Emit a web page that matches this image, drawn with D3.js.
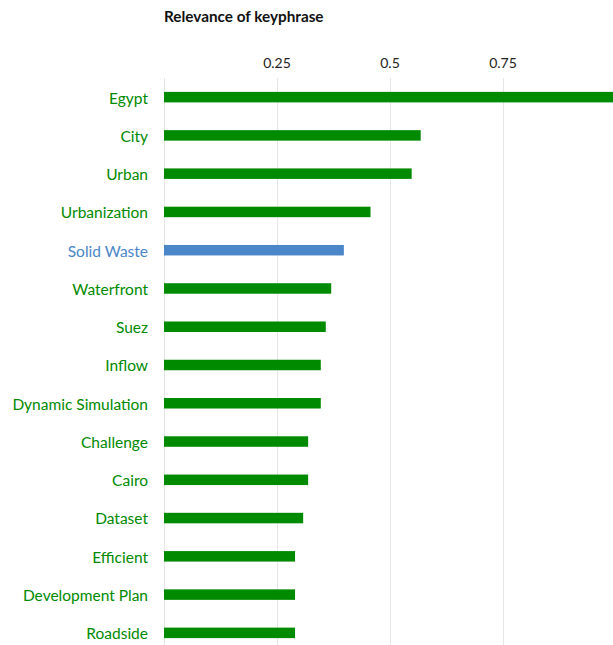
<!DOCTYPE html>
<html><head><meta charset="utf-8">
<script src="https://cdn.jsdelivr.net/npm/d3@7"></script>
<style>body{margin:0;background:#fff}svg{display:block}</style>
</head><body>
<script>
const categories = ["Egypt","City","Urban","Urbanization","Solid Waste","Waterfront","Suez","Inflow","Dynamic Simulation","Challenge","Cairo","Dataset","Efficient","Development Plan","Roadside"];
const values = [1.0,0.569,0.549,0.458,0.399,0.371,0.359,0.348,0.348,0.320,0.320,0.309,0.291,0.291,0.291];
const highlighted = ["Solid Waste"];
const tickValues = [0.25,0.5,0.75];
const tickLabels = ["0.25","0.5","0.75"];
const title = "Relevance of keyphrase";

const W = 613, H = 645;
const font = "Lato, 'Open Sans', sans-serif";
const green = "#008a00", blue = "#4a86c8";
const svg = d3.select("body").append("svg").attr("width", W).attr("height", H);

const x = d3.scaleLinear().domain([0, 1]).range([163.5, 615.5]);
const y = d3.scaleBand().domain(categories).range([78, 652]).padding(0);

svg.append("text").attr("x", 164).attr("y", 22).attr("font-family", font)
  .attr("font-weight", "bold").attr("font-size", 15.3).attr("fill", "#111").text(title);

// grid
svg.append("g").selectAll("line").data([0, ...tickValues]).join("line")
  .attr("x1", d => Math.round(x(d)) + 0.5).attr("x2", d => Math.round(x(d)) + 0.5)
  .attr("y1", 78).attr("y2", H).attr("stroke", "#e6e6e6").attr("stroke-width", 1);

// top axis labels
const axis = d3.axisTop(x).tickValues(tickValues).tickFormat((d, i) => tickLabels[i]).tickSize(0).tickPadding(0);
const ag = svg.append("g").attr("transform", "translate(0,68)").call(axis);
ag.select(".domain").remove();
ag.selectAll("text").attr("font-family", font).attr("font-size", 14).attr("fill", "#222");

const bh = 10.5;
svg.append("g").selectAll("rect").data(categories).join("rect")
  .attr("x", x(0) + 0.5).attr("y", d => y(d) + y.bandwidth() / 2 - bh / 2)
  .attr("width", (d, i) => x(values[i]) - x(0) - 0.5).attr("height", bh)
  .attr("fill", d => highlighted.includes(d) ? blue : green);

svg.append("g").selectAll("text").data(categories).join("text")
  .attr("x", 148).attr("y", d => y(d) + y.bandwidth() / 2 + 1).attr("dy", "0.35em")
  .attr("text-anchor", "end").attr("font-family", font).attr("font-size", 15.5)
  .attr("fill", d => highlighted.includes(d) ? blue : green).text(d => d);
</script>
</body></html>
